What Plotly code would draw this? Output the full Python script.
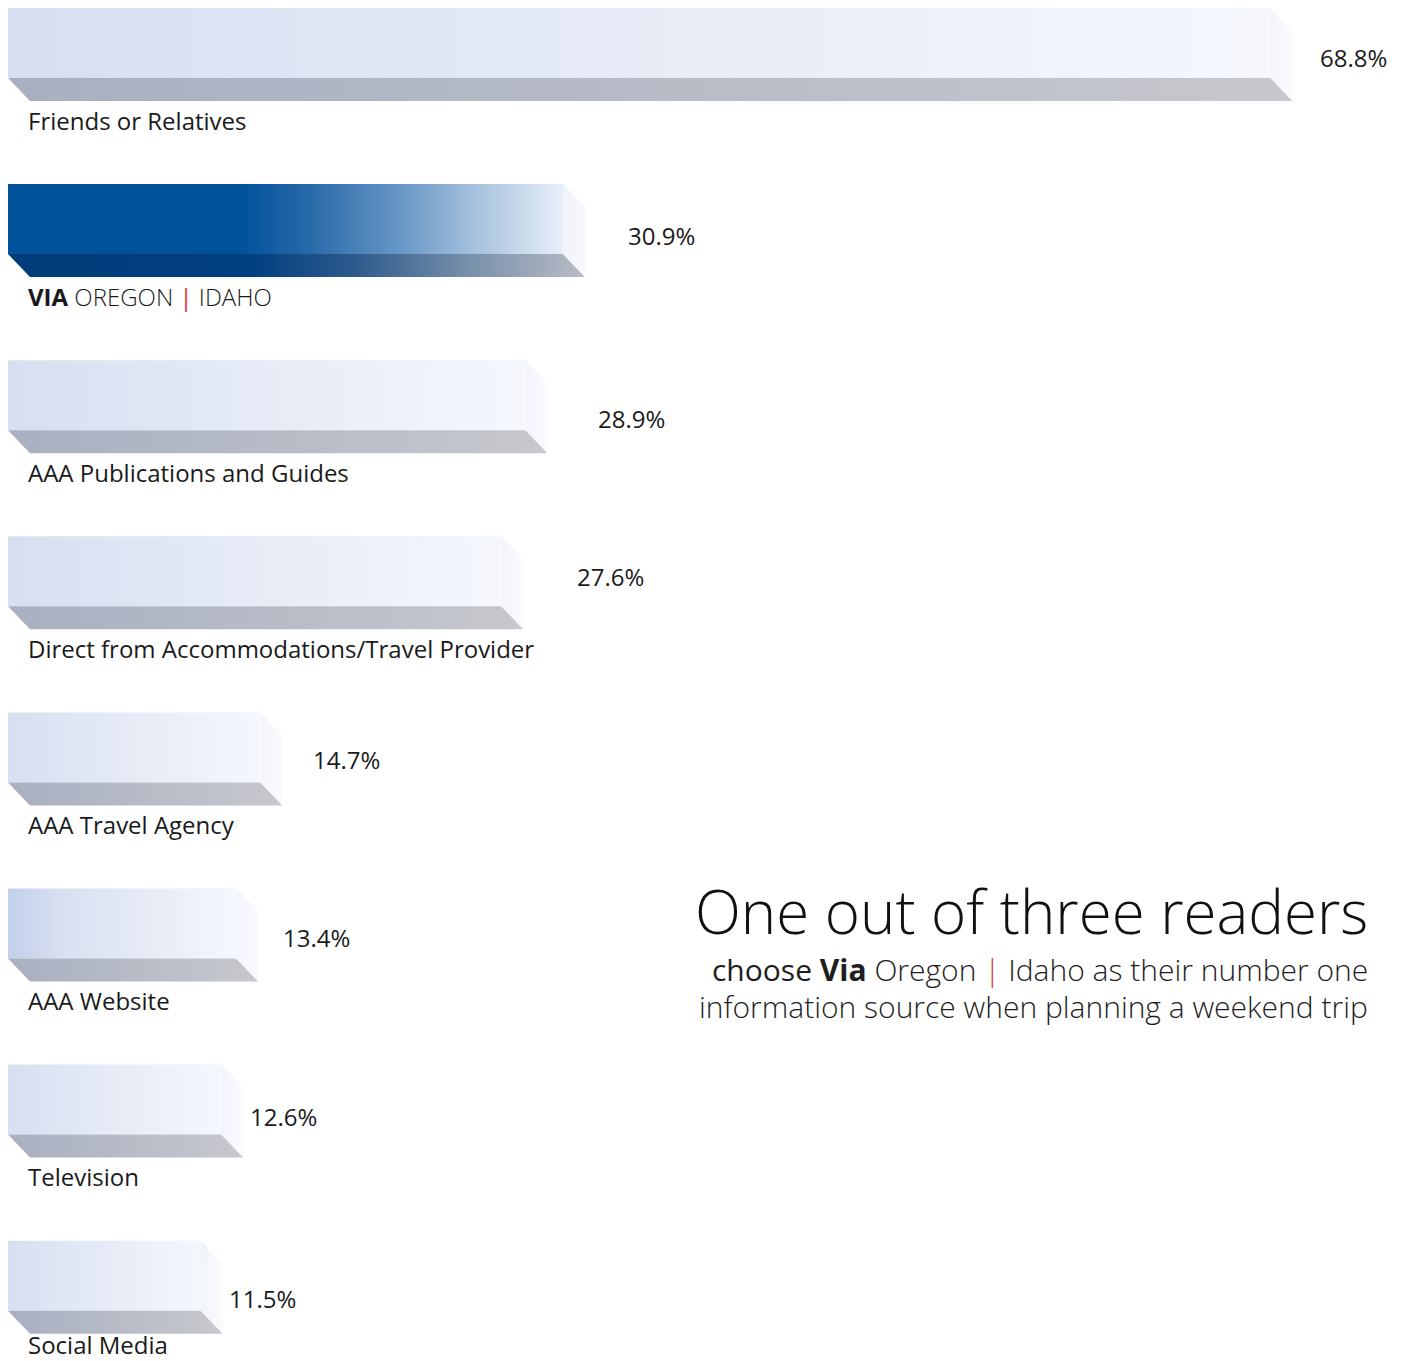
import plotly.graph_objects as go

# ---------------- data ----------------
categories = [
    "Friends or Relatives",
    "VIA OREGON | IDAHO",
    "AAA Publications and Guides",
    "Direct from Accommodations/Travel Provider",
    "AAA Travel Agency",
    "AAA Website",
    "Television",
    "Social Media",
]
values = [68.8, 30.9, 28.9, 27.6, 14.7, 13.4, 12.6, 11.5]
value_labels = ["68.8%", "30.9%", "28.9%", "27.6%", "14.7%", "13.4%", "12.6%", "11.5%"]
highlight = "VIA OREGON | IDAHO"

# ---------------- layout constants (styles) ----------------
W, H = 1406, 1361
PX_PER_PCT = 18.67      # horizontal scale
PX_PER_ROW = 176.1      # vertical spacing of bars
X0_PX = 8               # left edge of bars
ROW0_PX = 54.5          # center of first bar block
FACE_H = 70 / PX_PER_ROW
DEPTH_Y = 23 / PX_PER_ROW
DEPTH_X = 22 / PX_PER_PCT
BLOCK_H = FACE_H + DEPTH_Y
label_gap_px = [25, 41, 48, 52, 29, 23, 5, 4]
value_dy_px = [3, 5, 12, -6, 1, 2, 5, 11]
cat_dy_px = [19, 19, 19, 19, 19, 19, 19, 11]

FONT = "Open Sans"
TXT = "#1a1a1a"
RED = "#e8333a"

x_range = [-X0_PX / PX_PER_PCT, (W - X0_PX) / PX_PER_PCT]
y_range = [(H - ROW0_PX) / PX_PER_ROW, -ROW0_PX / PX_PER_ROW]

light_face = [[0, "#d7dff0"], [1, "#f5f7fd"]]
web_face = [[0, "#c2d0ea"], [0.25, "#d9e0f0"], [1, "#f5f7fd"]]
light_bottom = [[0, "#a8afc1"], [1, "#c7c8cd"]]
light_side = [[0, "#f1f4fb"], [1, "#fafbfe"]]
via_face = [[0, "#00529b"], [0.42, "#00529b"], [0.55, "#2a6caa"], [0.72, "#6d9bc8"],
            [0.85, "#a9c4df"], [1, "#e8eef8"]]
via_bottom = [[0, "#003c79"], [0.42, "#003f80"], [0.6, "#2d5a8c"], [0.8, "#7890aa"],
              [1, "#b9bcc5"]]
via_side = [[0, "#eef2fa"], [1, "#f8f9fd"]]

fig = go.Figure()

def poly(xs, ys, scale):
    fig.add_trace(go.Scatter(
        x=xs + [xs[0]], y=ys + [ys[0]], mode="lines", fill="toself",
        line=dict(width=0, color="rgba(0,0,0,0)"),
        fillgradient=dict(type="horizontal", colorscale=scale),
        hoverinfo="skip", showlegend=False))

for i, (cat, v) in enumerate(zip(categories, values)):
    top = i - BLOCK_H / 2
    mid = top + FACE_H
    bot = top + BLOCK_H
    xe = v
    xf = v - DEPTH_X
    if cat == highlight:
        fs, bs, ss = via_face, via_bottom, via_side
    elif cat == "AAA Website":
        fs, bs, ss = web_face, light_bottom, light_side
    else:
        fs, bs, ss = light_face, light_bottom, light_side
    # front/top face
    poly([0, xf, xf, 0], [top, top, mid, mid], fs)
    # bottom strip
    poly([0, xf, xe, DEPTH_X], [mid, mid, bot, bot], bs)
    # right side face
    poly([xf, xe, xe, xf], [top, top + DEPTH_Y, bot, mid], ss)

    # category label
    if cat == highlight:
        ltxt = ("<b>VIA</b> <span style='font-weight:300'>OREGON</span> "
                f"<span style='color:{RED}'>|</span> <span style='font-weight:300'>IDAHO</span>")
    else:
        ltxt = cat
    fig.add_annotation(x=18 / PX_PER_PCT, y=bot + cat_dy_px[i] / PX_PER_ROW, text=ltxt,
                       xanchor="left", yanchor="middle", showarrow=False,
                       font=dict(family=FONT, size=24, color=TXT))
    # value label
    fig.add_annotation(x=v + label_gap_px[i] / PX_PER_PCT,
                       y=i + value_dy_px[i] / PX_PER_ROW, text=value_labels[i],
                       xanchor="left", yanchor="middle", showarrow=False,
                       font=dict(family=FONT, size=24, color=TXT))

# headline text
fig.add_annotation(xref="paper", yref="paper", x=1370 / W, y=1 - 911 / H,
                   text="One out of three readers", xanchor="right", yanchor="middle",
                   showarrow=False, font=dict(family=FONT, size=60, color="#111111", weight=300))
fig.add_annotation(xref="paper", yref="paper", x=1370 / W, y=1 - 969 / H,
                   text=f"<span style='font-weight:400'>choose</span> <b>Via</b> Oregon "
                        f"<span style='color:{RED}'>|</span> Idaho as their number one",
                   xanchor="right", yanchor="middle", showarrow=False,
                   font=dict(family=FONT, size=30, color="#1e1e1e", weight=300))
fig.add_annotation(xref="paper", yref="paper", x=1370 / W, y=1 - 1006 / H,
                   text="information source when planning a weekend trip",
                   xanchor="right", yanchor="middle", showarrow=False,
                   font=dict(family=FONT, size=30, color="#1e1e1e", weight=300))

fig.update_layout(
    width=W, height=H, margin=dict(l=0, r=0, t=0, b=0),
    paper_bgcolor="white", plot_bgcolor="white",
    xaxis=dict(range=x_range, visible=False, fixedrange=True),
    yaxis=dict(range=y_range, visible=False, fixedrange=True),
    hovermode=False, showlegend=False,
)

fig.write_html("out.html", config={"displayModeBar": False})
